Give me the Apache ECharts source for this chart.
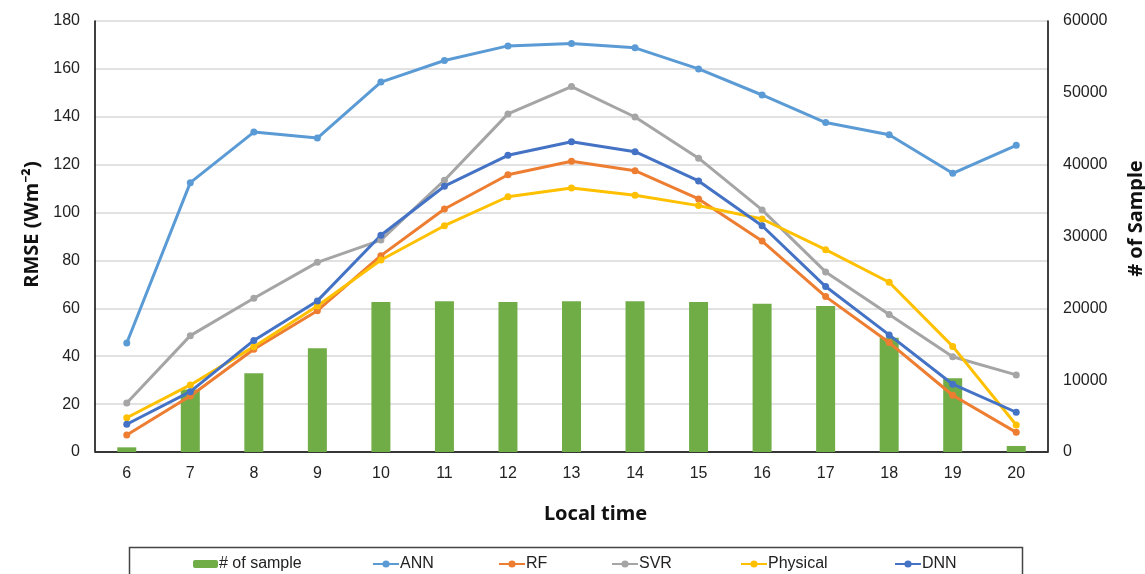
<!DOCTYPE html>
<html>
<head>
<meta charset="utf-8">
<script src="https://cdn.jsdelivr.net/npm/echarts@6/dist/echarts.min.js"></script>
<style>
html,body{margin:0;padding:0;background:#fff;}
#c{width:1145px;height:574px;}
</style>
</head>
<body>
<div id="c"></div>
<script>
const categories = ['6','7','8','9','10','11','12','13','14','15','16','17','18','19','20'];
const samples  = [650, 8700, 10950, 14430, 20880, 20980, 20880, 20980, 20980, 20880, 20650, 20320, 15900, 10260, 840];
const ann      = [45.5, 112.5, 133.6, 131.1, 154.5, 163.5, 169.6, 170.6, 168.8, 160.0, 149.1, 137.6, 132.5, 116.4, 128.1];
const rf       = [7.1, 23.4, 42.9, 59.0, 82.0, 101.5, 115.8, 121.4, 117.5, 105.7, 88.1, 64.9, 45.7, 23.7, 8.2];
const svr      = [20.5, 48.6, 64.2, 79.2, 88.5, 113.5, 141.2, 152.6, 139.9, 122.7, 101.1, 75.2, 57.4, 39.8, 32.2];
const physical = [14.3, 28.0, 44.0, 61.0, 80.2, 94.5, 106.6, 110.3, 107.2, 102.9, 97.3, 84.5, 70.9, 44.1, 11.3];
const dnn      = [11.6, 25.2, 46.6, 63.1, 90.5, 111.0, 123.9, 129.6, 125.4, 113.2, 94.5, 69.1, 48.9, 28.3, 16.6];
const leftTicks = {min: 0, max: 180, interval: 20};
const rightTicks = {min: 0, max: 60000, interval: 10000};

const chart = echarts.init(document.getElementById('c'), null, {renderer: 'canvas'});
const lineFont = 'Liberation Sans, Arial, sans-serif';
function lineSeries(name, data, color) {
  return {
    name: name, type: 'line', data: data, yAxisIndex: 0,
    symbol: 'circle', symbolSize: 7, showSymbol: true,
    lineStyle: {width: 3, color: color},
    itemStyle: {color: color},
    z: 3
  };
}
function legendItem(name, left, w, h) {
  return {
    data: [name], left: left, top: 556, orient: 'horizontal',
    itemWidth: w, itemHeight: h, itemGap: 3, padding: 0,
    textStyle: {fontFamily: lineFont, fontSize: 16, color: '#222', padding: [0, 0, 0, -4]},
    selectedMode: false
  };
}
const option = {
  backgroundColor: '#fff',
  animation: false,
  grid: {left: 95, right: 97, top: 21, bottom: 122, containLabel: false, outerBoundsMode: 'none'},
  xAxis: [{
    type: 'category', data: categories, boundaryGap: true,
    axisLine: {show: true, lineStyle: {color: '#d9d9d9', width: 1.5}},
    axisTick: {show: false},
    axisLabel: {fontFamily: lineFont, fontSize: 16, color: '#222', margin: 14},
    name: 'Local time', nameLocation: 'middle', nameGap: 52,
    nameTextStyle: {fontFamily: 'Noto Sans, sans-serif', fontWeight: 'bold', fontSize: 20, color: '#111', padding: [0, 0, 0, 48]}
  }, {
    type: 'category', data: categories, position: 'top',
    axisLine: {show: true, lineStyle: {color: '#000', width: 1.5}},
    axisTick: {show: false}, axisLabel: {show: false}
  }],
  yAxis: [{
    type: 'value', min: leftTicks.min, max: leftTicks.max, interval: leftTicks.interval,
    position: 'left',
    axisLine: {show: true, lineStyle: {color: '#000', width: 1.5}},
    axisTick: {show: false},
    axisLabel: {fontFamily: lineFont, fontSize: 16, color: '#222', margin: 15},
    splitLine: {show: true, lineStyle: {color: '#d9d9d9', width: 1.5}},
    name: 'RMSE (Wm⁻²)', nameLocation: 'middle', nameGap: 50, nameRotate: 90,
    nameTextStyle: {fontFamily: 'Noto Sans, sans-serif', fontWeight: 'bold', fontSize: 20, color: '#111', padding: [0, 0, 0, 24]}
  }, {
    type: 'value', min: rightTicks.min, max: rightTicks.max, interval: rightTicks.interval,
    position: 'right',
    axisLine: {show: true, lineStyle: {color: '#000', width: 1.5}},
    axisTick: {show: false},
    axisLabel: {fontFamily: lineFont, fontSize: 16, color: '#222', margin: 15, formatter: function (v) { return String(v); }},
    splitLine: {show: false},
    name: '# of Sample', nameLocation: 'middle', nameGap: 78, nameRotate: 90,
    nameTextStyle: {fontFamily: 'Noto Sans, sans-serif', fontWeight: 'bold', fontSize: 20, color: '#111', padding: [0, 0, 0, 36]}
  }],
  legend: [
    legendItem('# of sample', 193, 25, 8),
    legendItem('ANN', 372, 26, 9),
    legendItem('RF', 498, 26, 9),
    legendItem('SVR', 611, 26, 9),
    legendItem('Physical', 740, 26, 9),
    legendItem('DNN', 894, 26, 9)
  ],
  graphic: [{
    type: 'rect', left: 127, top: 545, z: 0,
    shape: {width: 893, height: 60},
    style: {fill: 'none', stroke: '#444', lineWidth: 1.5}
  }],
  series: [
    {
      name: '# of sample', type: 'bar', data: samples, yAxisIndex: 1, xAxisIndex: 0,
      barWidth: 19, itemStyle: {color: '#70AD47'}, z: 1
    },
    lineSeries('ANN', ann, '#5B9BD5'),
    lineSeries('RF', rf, '#ED7D31'),
    lineSeries('SVR', svr, '#A5A5A5'),
    lineSeries('Physical', physical, '#FFC000'),
    lineSeries('DNN', dnn, '#4472C4')
  ]
};
chart.setOption(option);
</script>
</body>
</html>
